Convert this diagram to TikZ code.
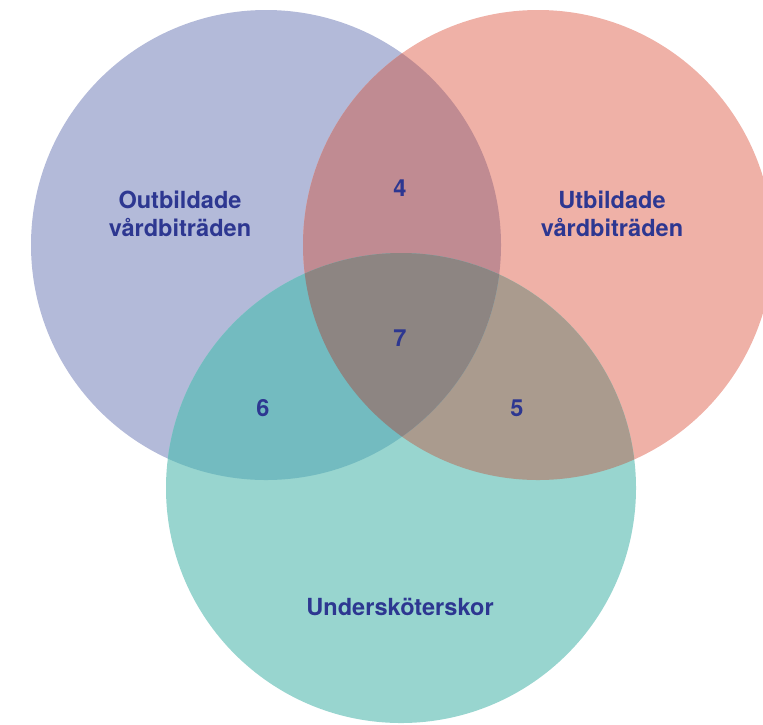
\documentclass[tikz,border=0pt]{standalone}
\usepackage{fontspec}
\setmainfont{TeX Gyre Heros}
\usetikzlibrary{positioning}
\definecolor{bluefill}{HTML}{B3BAD9}
\definecolor{redfill}{HTML}{EFB1A7}
\definecolor{tealfill}{HTML}{98D5CF}
\definecolor{bluered}{HTML}{C08B92}
\definecolor{blueteal}{HTML}{73BBC0}
\definecolor{redteal}{HTML}{AA9B8E}
\definecolor{allthree}{HTML}{8D8582}
\definecolor{textblue}{HTML}{2D3791}
\tikzstyle{setname}=[align=center,text=textblue,inner sep=0pt,font=\bfseries\fontsize{13.4}{15.6}\selectfont]
\tikzstyle{count}=[text=textblue,inner sep=0pt,font=\bfseries\fontsize{13.4}{15.6}\selectfont]

\begin{document}
\begin{tikzpicture}[x=0.02cm,y=-0.02cm]
  \useasboundingbox (0,0) rectangle (763,724);
  \coordinate (o) at (266,245);
  \coordinate (u) at (538,245);
  \coordinate (s) at (401,488);

  \fill [bluefill] (o) circle (235);
  \fill [redfill] (u) circle (235);
  \fill [tealfill] (s) circle (235);

  \begin{scope}
    \clip (u) circle (235);
    \fill [redteal] (s) circle (235);
  \end{scope}
  \begin{scope}
    \clip (o) circle (235);
    \fill [bluered] (u) circle (235);
    \fill [blueteal] (s) circle (235);
    \clip (u) circle (235);
    \fill [allthree] (s) circle (235);
  \end{scope}

  \node [setname] at (180, 214) (outb) {Outbildade\\vårdbiträden};
  \node [setname] at (612, 214) (utb) {Utbildade\\vårdbiträden};
  \node [setname] at (400, 607) (usk) {Undersköterskor};

  \node [count] at (400, 188) (n4) {4};
  \node [count] at (400, 338) (n7) {7};
  \node [count] at (263, 408) (n6) {6};
  \node [count] at (517, 408) (n5) {5};
\end{tikzpicture}
\end{document}
